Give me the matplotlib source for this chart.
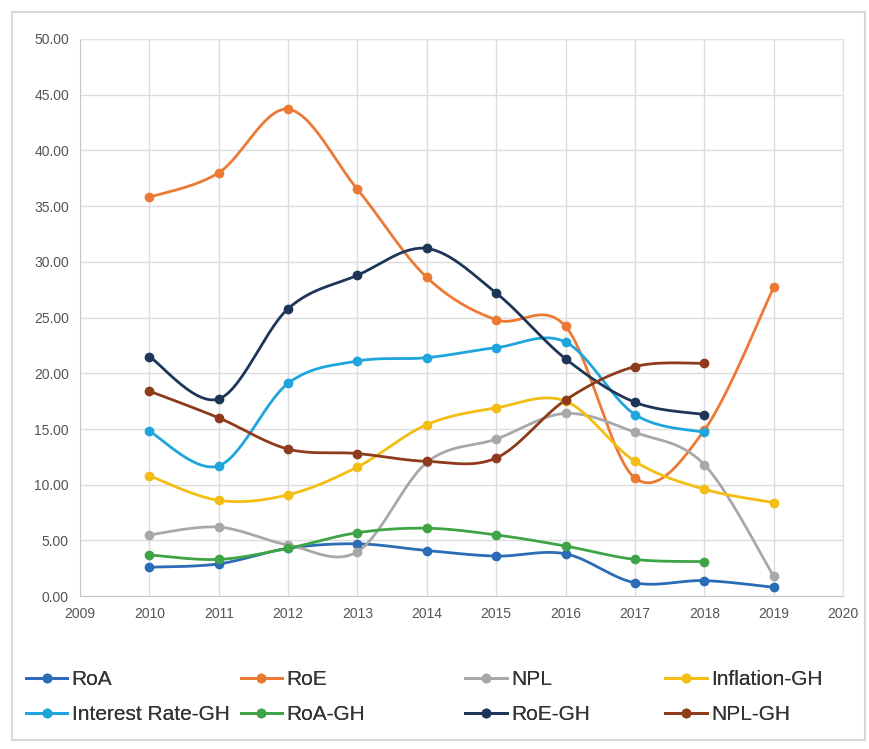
import matplotlib
matplotlib.use('Agg')
from matplotlib import pyplot as plt
from matplotlib.patches import Rectangle
import numpy as np

plt.rcParams['font.family'] = ['Liberation Sans', 'DejaVu Sans']

# data
years = [2010, 2011, 2012, 2013, 2014, 2015, 2016, 2017, 2018, 2019]
roa = [2.6, 2.9, 4.3, 4.7, 4.1, 3.6, 3.8, 1.2, 1.4, 0.8]
roe = [35.8, 38.0, 43.7, 36.5, 28.6, 24.8, 24.2, 10.6, 14.9, 27.7]
npl = [5.5, 6.2, 4.6, 4.0, 12.0, 14.1, 16.4, 14.7, 11.8, 1.8]
inflation_gh = [10.8, 8.6, 9.1, 11.6, 15.4, 16.9, 17.5, 12.1, 9.6, 8.4]
interest_gh = [14.8, 11.7, 19.1, 21.1, 21.4, 22.3, 22.8, 16.3, 14.7]
roa_gh = [3.7, 3.3, 4.3, 5.7, 6.1, 5.5, 4.5, 3.3, 3.1]
roe_gh = [21.5, 17.7, 25.8, 28.8, 31.2, 27.2, 21.3, 17.4, 16.3]
npl_gh = [18.4, 16.0, 13.2, 12.8, 12.1, 12.4, 17.6, 20.6, 20.9]

series = [
    ("RoA", roa, "#2a6cb5"),
    ("RoE", roe, "#ec7a35"),
    ("NPL", npl, "#a8a8a8"),
    ("Inflation-GH", inflation_gh, "#f4bd12"),
    ("Interest Rate-GH", interest_gh, "#1ea6dc"),
    ("RoA-GH", roa_gh, "#3fa445"),
    ("RoE-GH", roe_gh, "#1d3557"),
    ("NPL-GH", npl_gh, "#8e3a1c"),
]


def smooth(x, y, n=30):
    # excel style smoothed line (bezier through the points)
    x = np.asarray(x, float)
    y = np.asarray(y, float)
    px, py = [], []
    m = len(x)
    for i in range(m - 1):
        x0, y0 = (x[i - 1], y[i - 1]) if i > 0 else (x[i], y[i])
        x3, y3 = (x[i + 2], y[i + 2]) if i + 2 < m else (x[i + 1], y[i + 1])
        c1x = x[i] + (x[i + 1] - x0) / 6
        c1y = y[i] + (y[i + 1] - y0) / 6
        c2x = x[i + 1] - (x3 - x[i]) / 6
        c2y = y[i + 1] - (y3 - y[i]) / 6
        t = np.linspace(0, 1, n)
        a, b, c, d = (1 - t) ** 3, 3 * (1 - t) ** 2 * t, 3 * (1 - t) * t ** 2, t ** 3
        px.append(a * x[i] + b * c1x + c * c2x + d * x[i + 1])
        py.append(a * y[i] + b * c1y + c * c2y + d * y[i + 1])
    return np.concatenate(px), np.concatenate(py)


fig = plt.figure(figsize=(8.7, 7.49), dpi=100)
fig.patches.append(Rectangle((0.014, 0.012), 0.98, 0.972, transform=fig.transFigure,
                             fill=False, edgecolor='#d9d9d9', linewidth=1.5))
ax = fig.add_axes([0.092, 0.204, 0.877, 0.744])

handles = []
for name, vals, col in series:
    xs = years[:len(vals)]
    sx, sy = smooth(xs, vals)
    ax.plot(sx, sy, color=col, linewidth=2, zorder=3)
    ax.plot(xs, vals, 'o', color=col, markersize=6, zorder=4)
    h, = ax.plot([], [], color=col, linewidth=2, marker='o', markersize=6)
    handles.append((h, name))

ax.set_xlim(2009, 2020)
ax.set_ylim(0, 50)
ax.set_xticks(range(2009, 2021))
ax.set_yticks(np.arange(0, 51, 5))
ax.set_yticklabels(["%.2f" % v for v in np.arange(0, 51, 5)])
ax.grid(True, color='#dcdcdc', linewidth=1)
ax.set_axisbelow(True)
for s in ['top', 'right']:
    ax.spines[s].set_color('#e0e0e0')
for s in ['left', 'bottom']:
    ax.spines[s].set_color('#c8c8c8')
ax.tick_params(length=0, labelsize=10, colors='#555555', pad=8)

# legend: 4 columns placed by hand, row 1 = first four series
col_x = [0.008, 0.255, 0.513, 0.743]
for k in range(4):
    pair = [handles[k], handles[k + 4]]
    leg = fig.legend([h for h, _ in pair], [n for _, n in pair], loc='upper left',
                     bbox_to_anchor=(col_x[k], 0.13), frameon=False, fontsize=15,
                     handlelength=2.0, handletextpad=0.2, labelcolor='#333333',
                     labelspacing=0.75)
    fig.add_artist(leg)

fig.savefig("out.png", dpi=100)
